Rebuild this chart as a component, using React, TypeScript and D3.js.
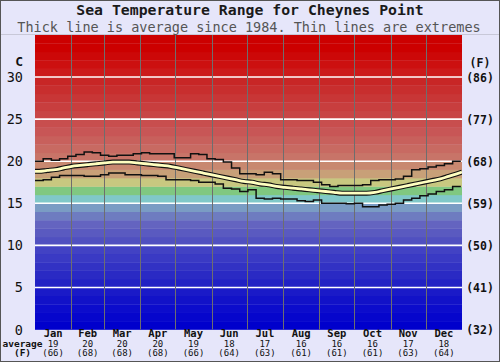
import React, { useRef, useEffect } from 'react';
import * as d3 from 'd3';

const WIDTH = 500;
const HEIGHT = 362;

// month names, lengths and the monthly average labels
const months = ['Jan', 'Feb', 'Mar', 'Apr', 'May', 'Jun', 'Jul', 'Aug', 'Sep', 'Oct', 'Nov', 'Dec'];
const monthDays = [31, 28, 31, 30, 31, 30, 31, 31, 30, 31, 30, 31];
const avgC = [19, 20, 20, 20, 19, 18, 17, 16, 16, 16, 17, 18];
const avgF = [66, 68, 68, 68, 66, 64, 63, 61, 61, 61, 63, 64];

// axis ticks
const ticksC = [0, 5, 10, 15, 20, 25, 30];
const ticksF = [32, 41, 50, 59, 68, 77, 86];

// weekly extremes (thin lines)
const weeklyMax = [
  20.0, 20.3, 20.1, 20.3, 20.6, 20.8, 21.1, 21.0, 20.7, 20.6, 20.7, 20.7, 20.9,
  21.0, 20.9, 20.9, 20.9, 20.4, 20.4, 20.9, 20.8, 20.3, 20.2, 19.9, 19.2, 18.5,
  18.5, 18.4, 18.7, 18.5, 17.8, 17.8, 17.7, 17.7, 17.5, 17.2, 17.0, 17.1, 17.1,
  17.1, 17.2, 17.7, 17.8, 17.8, 17.9, 18.2, 19.0, 19.1, 19.3, 19.5, 19.7, 20.0,
];
const weeklyMin = [
  17.7, 17.8, 18.1, 18.3, 18.3, 18.3, 18.2, 18.2, 18.4, 18.6, 18.6, 18.4, 18.4,
  18.3, 18.3, 18.2, 17.8, 17.8, 17.8, 17.7, 17.5, 17.5, 17.3, 16.8, 16.7, 16.4,
  16.6, 15.6, 15.5, 15.6, 15.5, 15.5, 15.3, 15.2, 15.4, 15.0, 15.0, 15.0, 14.95,
  15.0, 14.6, 14.6, 14.8, 14.9, 15.0, 15.4, 15.6, 15.9, 16.1, 16.4, 16.6, 17.0,
];
// average (thick line): start value, weekly mid values, end value
const weeklyAvg = [
  18.8,
  18.8, 18.9, 19.0, 19.2, 19.4, 19.5, 19.6, 19.7, 19.8, 19.9, 19.9, 19.9, 19.8,
  19.7, 19.6, 19.5, 19.4, 19.2, 19.0, 18.8, 18.6, 18.4, 18.2, 18.0, 17.8, 17.6,
  17.5, 17.3, 17.2, 17.0, 16.9, 16.8, 16.7, 16.6, 16.5, 16.4, 16.3, 16.2, 16.2,
  16.2, 16.2, 16.3, 16.5, 16.7, 16.9, 17.1, 17.3, 17.5, 17.7, 17.9, 18.2, 18.5,
  18.7,
];

// one colour per 1°C band, 0..35
const bandColors = [
  '#0000cc', '#0606cc', '#0c0ccc', '#1212c8', '#1a1ac8', '#2222c4', '#2a2ac4',
  '#3232c4', '#3a3ac4', '#4242c4', '#5050c0', '#5a5ac0', '#6464c0', '#6e7cc0',
  '#7a9cc4', '#80c8c8', '#80c880', '#c8c880', '#c8a078', '#c88870', '#c87468',
  '#c86a62', '#c8605c', '#c85656', '#c84e4e', '#c84646', '#c83e3e', '#c83636',
  '#c82e2e', '#c82626', '#cc1a1a', '#cc1010', '#cc0808', '#cc0000', '#cc0000',
];

const FONT = "'DejaVu Sans Mono', monospace";

const App: React.FC = () => {
  const svgRef = useRef<SVGSVGElement>(null);

  useEffect(() => {
    if (!svgRef.current) return;
    d3.select(svgRef.current).selectAll('*').remove();

    const svg = d3.select(svgRef.current)
      .attr('width', WIDTH)
      .attr('height', HEIGHT);

    const x = d3.scaleLinear().domain([0, 365]).range([35, 462]);
    const y = d3.scaleLinear().domain([0, 35]).range([329.5, 35]);

    // background
    svg.append('rect')
      .attr('width', WIDTH).attr('height', HEIGHT)
      .attr('fill', '#e6e6fa');

    // header separator
    svg.append('line')
      .attr('x1', 0).attr('x2', WIDTH).attr('y1', 34.5).attr('y2', 34.5)
      .attr('stroke', '#c8c8d8');

    // colour bands
    svg.append('g').selectAll('rect')
      .data(bandColors)
      .join('rect')
      .attr('x', x(0))
      .attr('width', x(365) - x(0))
      .attr('y', (_, i) => y(i + 1))
      .attr('height', (_, i) => y(i) - y(i + 1) + 0.3)
      .attr('fill', d => d);

    // white horizontal grid lines
    svg.append('g').selectAll('line')
      .data(ticksC.filter(t => t > 0))
      .join('line')
      .attr('x1', x(0)).attr('x2', x(365))
      .attr('y1', d => y(d)).attr('y2', d => y(d))
      .attr('stroke', '#ffffff')
      .attr('stroke-width', 1.6);

    // month boundaries
    const startArr = Array.from(d3.cumsum([0, ...monthDays.slice(0, -1)]));
    svg.append('g').selectAll('line')
      .data(startArr.slice(1))
      .join('line')
      .attr('x1', d => Math.round(x(d)) + 0.5).attr('x2', d => Math.round(x(d)) + 0.5)
      .attr('y1', y(35)).attr('y2', y(0))
      .attr('stroke', '#6e6e6e')
      .attr('stroke-width', 1);

    // clip
    svg.append('clipPath').attr('id', 'plotClip')
      .append('rect')
      .attr('x', x(0)).attr('y', y(35))
      .attr('width', x(365) - x(0)).attr('height', y(0) - y(35));

    const lines = svg.append('g').attr('clip-path', 'url(#plotClip)');

    const stepLine = d3.line<number>()
      .x((_, i) => x(Math.min(i * 7, 365)))
      .y(d => y(d))
      .curve(d3.curveStepAfter);

    const withEnd = (arr: number[]) => [...arr, arr[arr.length - 1]];

    [weeklyMax, weeklyMin].forEach(series => {
      lines.append('path')
        .datum(withEnd(series))
        .attr('fill', 'none')
        .attr('stroke', '#111')
        .attr('stroke-width', 1.5)
        .attr('d', stepLine);
    });

    const n = weeklyAvg.length;
    const avgLine = d3.line<number>()
      .x((_, i) => x(i === 0 ? 0 : i === n - 1 ? 365 : (i - 1) * 7 + 3.5))
      .y(d => y(d))
      .curve(d3.curveMonotoneX);

    lines.append('path')
      .datum(weeklyAvg)
      .attr('fill', 'none')
      .attr('stroke', '#111')
      .attr('stroke-width', 5)
      .attr('d', avgLine);
    lines.append('path')
      .datum(weeklyAvg)
      .attr('fill', 'none')
      .attr('stroke', '#ffffc0')
      .attr('stroke-width', 2.8)
      .attr('d', avgLine);

    // titles
    svg.append('text')
      .attr('x', 250).attr('y', 15.3)
      .attr('text-anchor', 'middle')
      .attr('font-family', FONT).attr('font-weight', 'bold').attr('font-size', 14.8)
      .attr('fill', '#1a1a1a')
      .text('Sea Temperature Range for Cheynes Point');
    svg.append('text')
      .attr('x', 249).attr('y', 31.5)
      .attr('text-anchor', 'middle')
      .attr('font-family', FONT).attr('font-size', 13.5)
      .attr('fill', '#555')
      .text('Thick line is average since 1984. Thin lines are extremes');

    // left axis (C)
    svg.append('text')
      .attr('x', 23).attr('y', 66)
      .attr('text-anchor', 'end')
      .attr('font-family', FONT).attr('font-weight', 'bold').attr('font-size', 13)
      .attr('fill', '#111')
      .text('C');
    svg.append('g').selectAll('text')
      .data(ticksC)
      .join('text')
      .attr('x', 23)
      .attr('y', d => y(d) + 5)
      .attr('text-anchor', 'end')
      .attr('font-family', FONT).attr('font-size', 13.5)
      .attr('fill', '#111')
      .text(d => String(d));

    // right axis (F)
    svg.append('text')
      .attr('x', 480).attr('y', 67)
      .attr('text-anchor', 'middle')
      .attr('font-family', FONT).attr('font-weight', 'bold').attr('font-size', 11.5)
      .attr('fill', '#111')
      .text('(F)');
    svg.append('g').selectAll('text')
      .data(ticksF)
      .join('text')
      .attr('x', 480)
      .attr('y', (_, i) => y(ticksC[i]) + 4.5)
      .attr('text-anchor', 'middle')
      .attr('font-family', FONT).attr('font-weight', 'bold').attr('font-size', 11.5)
      .attr('fill', '#111')
      .text(d => `(${d})`);

    // month labels and averages
    const mid = (i: number) => x(startArr[i] + monthDays[i] / 2);
    const bottom = svg.append('g').attr('font-family', FONT).attr('fill', '#111');
    bottom.selectAll('text.month')
      .data(months)
      .join('text')
      .attr('class', 'month')
      .attr('x', (_, i) => mid(i))
      .attr('y', 337)
      .attr('text-anchor', 'middle')
      .attr('font-weight', 'bold').attr('font-size', 10.5)
      .text(d => d);
    bottom.selectAll('text.avgc')
      .data(avgC)
      .join('text')
      .attr('class', 'avgc')
      .attr('x', (_, i) => mid(i))
      .attr('y', 346.5)
      .attr('text-anchor', 'middle')
      .attr('font-size', 9)
      .text(d => String(d));
    bottom.selectAll('text.avgf')
      .data(avgF)
      .join('text')
      .attr('class', 'avgf')
      .attr('x', (_, i) => mid(i))
      .attr('y', 356)
      .attr('text-anchor', 'middle')
      .attr('font-size', 9)
      .text(d => `(${d})`);
    bottom.append('text')
      .attr('x', 22.5).attr('y', 346.5)
      .attr('text-anchor', 'middle')
      .attr('font-weight', 'bold').attr('font-size', 9.5)
      .text('average');
    bottom.append('text')
      .attr('x', 22.5).attr('y', 356)
      .attr('text-anchor', 'middle')
      .attr('font-weight', 'bold').attr('font-size', 9.5)
      .text('(F)');

    // outer border
    svg.append('rect')
      .attr('x', 0.5).attr('y', 0.5)
      .attr('width', WIDTH - 1).attr('height', HEIGHT - 1)
      .attr('fill', 'none')
      .attr('stroke', '#555');
  }, []);

  return (
    <svg ref={svgRef} style={{ position: 'absolute', left: 0, top: 0 }}></svg>
  );
};

export default App;
